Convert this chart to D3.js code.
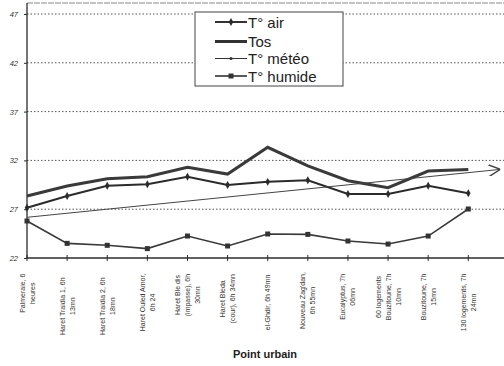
<!DOCTYPE html>
<html><head><meta charset="utf-8">
<script src="https://cdn.jsdelivr.net/npm/d3@7"></script>
<style>html,body{margin:0;padding:0;background:#fff;}svg{display:block;}</style>
</head><body>
<svg id="chart" width="504" height="366"></svg>
<script>
const categories = [
  ["Palmeraie, 6", "heures"],
  ["Haret Traidia 1, 6h", "13mn"],
  ["Haret Traidia 2, 6h", "18mn"],
  ["Haret Ouled Amor,", "6h 24"],
  ["Haret Ble dis", "(impasse), 6h", "30mn"],
  ["Haret Bleda", "(cour), 6h 34mn"],
  ["el-Ghdir, 6h 49mn"],
  ["Nouveau Zag'dan,", "6h 55mn"],
  ["Eucalyptus, 7h", "06mn"],
  ["60 logements", "Bouzitoune, 7h", "10mn"],
  ["Bouzitoune, 7h", "15mn"],
  ["130 logements, 7h", "24mn"]
];
const tAir    = [27.15, 28.35, 29.4, 29.55, 30.33, 29.48, 29.8, 29.96, 28.56, 28.56, 29.4, 28.63];
const tos     = [28.35, 29.38, 30.13, 30.33, 31.29, 30.6, 33.34, 31.43, 29.92, 29.2, 30.91, 31.08];
const tHumide = [25.79, 23.5, 23.3, 22.96, 24.25, 23.23, 24.46, 24.42, 23.74, 23.43, 24.25, 27.02];
const meteoX  = [0, 11.8];
const meteoV  = [26.17, 31.08];
const yTicks  = [22, 27, 32, 37, 42, 47];
const legendLabels = ["T° air", "Tos", "T° météo", "T° humide"];
const xTitle = "Point urbain";

(function () {
const svg = d3.select("#chart");
const pL = 27, pR = 504, pB = 258, pT = 3;
const x = d3.scaleLinear().domain([0, 11]).range([27, 468.3]);
const y = d3.scaleLinear().domain([22, 47]).range([258, 14]);
const ink = "#2b2b2b";
const font = "Liberation Sans, Arial, sans-serif";

svg.append("line").attr("x1", pL).attr("x2", pR).attr("y1", pT).attr("y2", pT)
  .attr("stroke", "#888").attr("stroke-width", 1.2).attr("stroke-dasharray", "6,1");

svg.append("g").selectAll("line").data(yTicks.filter(d => d > 22)).join("line")
  .attr("x1", pL).attr("x2", pR).attr("y1", d => y(d)).attr("y2", d => y(d))
  .attr("stroke", "#555").attr("stroke-width", 1).attr("stroke-dasharray", "1.5,2");

const yAxis = svg.append("g").attr("transform", `translate(${pL},0)`)
  .call(d3.axisLeft(y).tickValues(yTicks).tickSize(3).tickPadding(6));
yAxis.select(".domain").remove();
yAxis.selectAll(".tick line").attr("stroke", ink);
yAxis.selectAll("text").attr("font-family", font)
  .attr("font-size", 7.5).attr("font-style", "italic").attr("fill", "#333");
svg.append("line").attr("x1", pL).attr("x2", pL).attr("y1", pT).attr("y2", pB)
  .attr("stroke", ink).attr("stroke-width", 1.3);

svg.append("line").attr("x1", pL).attr("x2", pR).attr("y1", pB).attr("y2", pB)
  .attr("stroke", ink).attr("stroke-width", 1.3);
svg.append("g").selectAll("line").data(d3.range(categories.length)).join("line")
  .attr("x1", d => x(d)).attr("x2", d => x(d)).attr("y1", pB - 3).attr("y2", pB + 3)
  .attr("stroke", ink).attr("stroke-width", 1);

const lh = 10;
categories.forEach((lines, i) => {
  const maxLen = d3.max(lines, l => l.length);
  const g = svg.append("g")
    .attr("transform", `translate(${x(i)},${271})rotate(-90)`);
  const n = lines.length;
  lines.forEach((l, j) => {
    g.append("text")
      .attr("x", -maxLen * 1.85)
      .attr("y", (j - (n - 1) / 2) * lh + 2.5)
      .attr("text-anchor", "middle")
      .attr("font-family", font)
      .attr("font-size", 7).attr("fill", "#333")
      .text(l);
  });
});

svg.append("text").attr("x", 265).attr("y", 358).attr("text-anchor", "middle")
  .attr("font-family", font).attr("font-weight", "bold")
  .attr("font-size", 11).attr("fill", "#222").text(xTitle);

const line = d3.line().x((d, i) => x(i)).y(d => y(d));
svg.append("path").attr("d", line(tos)).attr("fill", "none").attr("stroke", "#3a3a3a").attr("stroke-width", 3);
svg.append("path").attr("d", line(tAir)).attr("fill", "none").attr("stroke", ink).attr("stroke-width", 2);
svg.append("path").attr("d", line(tHumide)).attr("fill", "none").attr("stroke", "#3a3a3a").attr("stroke-width", 1.6);

svg.append("defs").append("marker").attr("id", "arr").attr("viewBox", "0 0 10 10")
  .attr("refX", 10).attr("refY", 5).attr("markerWidth", 12).attr("markerHeight", 12)
  .attr("markerUnits", "userSpaceOnUse").attr("orient", "auto")
  .append("path").attr("d", "M0,0 L10,5 L0,10").attr("fill", "none").attr("stroke", "#444").attr("stroke-width", 1.2);
svg.append("path")
  .attr("d", d3.line().x(d => x(d[0])).y(d => y(d[1]))(meteoX.map((v, i) => [v, meteoV[i]])))
  .attr("fill", "none").attr("stroke", "#444").attr("stroke-width", 1).attr("marker-end", "url(#arr)");

svg.append("g").selectAll("path").data(tAir).join("path")
  .attr("d", d3.symbol(d3.symbolDiamond, 18)).attr("transform", (d, i) => `translate(${x(i)},${y(d)})`)
  .attr("fill", ink);
svg.append("g").selectAll("rect").data(tHumide).join("rect")
  .attr("x", (d, i) => x(i) - 2.5).attr("y", d => y(d) - 2.5).attr("width", 5).attr("height", 5)
  .attr("fill", "#333");

svg.append("rect").attr("x", 195).attr("y", 12).attr("width", 148).attr("height", 74)
  .attr("fill", "#fff").attr("stroke", "#444").attr("stroke-width", 1);
const ly = [22, 41.5, 58.5, 76];
legendLabels.forEach((lab, i) => {
  const yy = ly[i];
  const sw = [2, 3, 1, 1.6][i];
  svg.append("line").attr("x1", 215).attr("x2", 247).attr("y1", yy).attr("y2", yy)
    .attr("stroke", "#333").attr("stroke-width", sw);
  if (i === 0) svg.append("path").attr("d", d3.symbol(d3.symbolDiamond, 18)).attr("transform", `translate(231,${yy})`).attr("fill", ink);
  if (i === 2) svg.append("circle").attr("cx", 231).attr("cy", yy).attr("r", 1.6).attr("fill", "#333");
  if (i === 3) svg.append("rect").attr("x", 228.5).attr("y", yy - 2.5).attr("width", 5).attr("height", 5).attr("fill", "#333");
  svg.append("text").attr("x", 248).attr("y", yy + 5.5)
    .attr("font-family", font).attr("font-size", 15).attr("fill", "#222")
    .text(lab);
});
})();
</script>
</body></html>
